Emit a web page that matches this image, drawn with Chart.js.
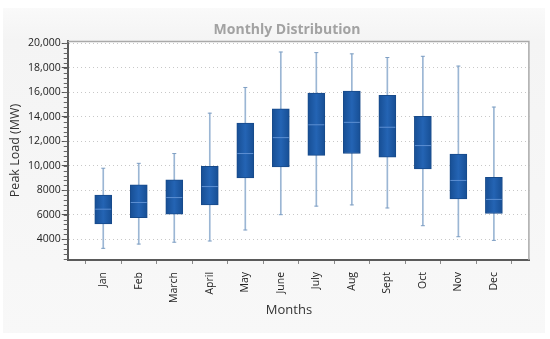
<!DOCTYPE html>
<html>
<head>
<meta charset="utf-8">
<script src="https://cdn.jsdelivr.net/npm/chart.js@4.4.1/dist/chart.umd.min.js"></script>
<style>
  html, body { margin: 0; padding: 0; background: #fff; }
  #wrap { width: 550px; height: 339px; position: relative; }
</style>
</head>
<body>
<div id="wrap"><canvas id="chart"></canvas></div>
<script>
// monthly peak load values (MW)
var months = ["Jan", "Feb", "March", "April", "May", "June", "July", "Aug", "Sept", "Oct", "Nov", "Dec"];
var lowWhisker = [3250, 3600, 3750, 3850, 4750, 6000, 6700, 6800, 6550, 5100, 4200, 3900];
var q1 = [5250, 5750, 6050, 6800, 9000, 9900, 10850, 11000, 10700, 9750, 7300, 6100];
var median = [6450, 7000, 7400, 8300, 11000, 12300, 13350, 13550, 13150, 11650, 8800, 7250];
var q3 = [7600, 8450, 8850, 9950, 13500, 14650, 15950, 16100, 15750, 14050, 10950, 9050];
var highWhisker = [9800, 10200, 11000, 14300, 16400, 19300, 19250, 19150, 18850, 18950, 18150, 14800];
var yTicks = [4000, 6000, 8000, 10000, 12000, 14000, 16000, 18000, 20000];

var titleText = "Monthly Distribution";
var yTitle = "Peak Load (MW)";
var xTitle = "Months";

// one empty slot each side so the months sit inside the frame like the original
var labels = [""].concat(months).concat([" "]);

function pairs(a, b) {
    return months.map(function (m, i) { return { x: m, y: [a[i], b[i]] }; });
}
function points(a) {
    return months.map(function (m, i) { return { x: m, y: a[i] }; });
}

// gradient for each box, lighter in the middle
function boxFill(ctx) {
    var chart = ctx.chart;
    if (ctx.type !== 'data' || !chart.chartArea || !chart.scales.x) return '#1d5aa6';
    var cx = chart.scales.x.getPixelForValue(ctx.parsed.x);
    var g = chart.ctx.createLinearGradient(cx - 9, 0, cx + 9, 0);
    g.addColorStop(0, '#164d92');
    g.addColorStop(0.5, '#2464b4');
    g.addColorStop(1, '#164d92');
    return g;
}

var backdrop = {
    id: 'backdrop',
    beforeDraw: function (chart) {
        var c = chart.ctx, a = chart.chartArea;
        c.save();
        c.fillStyle = '#ffffff';
        c.fillRect(0, 0, chart.width, chart.height);
        var g = c.createLinearGradient(0, 0, 0, chart.height);
        g.addColorStop(0, '#fbfbfb');
        g.addColorStop(0.12, '#f4f4f4');
        g.addColorStop(1, '#f8f8f8');
        c.fillStyle = g;
        c.fillRect(3, 8, 542, 325);
        c.fillStyle = '#ffffff';
        c.fillRect(a.left, a.top, a.right - a.left, a.bottom - a.top);
        c.restore();
    },
    afterDraw: function (chart) {
        var c = chart.ctx, a = chart.chartArea, y = chart.scales.y;
        c.save();
        // top and right frame
        c.strokeStyle = '#a9a9a9';
        c.lineWidth = 1.5;
        c.beginPath();
        c.moveTo(a.left, a.top + 0.5);
        c.lineTo(a.right - 0.5, a.top + 0.5);
        c.lineTo(a.right - 0.5, a.bottom);
        c.stroke();
        // minor ticks on the value axis
        c.strokeStyle = '#666';
        c.lineWidth = 1;
        c.beginPath();
        for (var v = 2400; v <= 20200; v += 400) {
            var py = Math.round(y.getPixelForValue(v)) + 0.5;
            c.moveTo(a.left - 4, py);
            c.lineTo(a.left, py);
        }
        c.stroke();
        // titles
        c.fillStyle = '#a2a2a2';
        c.font = 'bold 14px "Open Sans"';
        c.textAlign = 'center';
        c.textBaseline = 'middle';
        c.fillText(titleText, 287, 30);
        c.fillStyle = '#333';
        c.font = '13px "Open Sans"';
        c.fillText(xTitle, 289, 310);
        c.restore();
    }
};

new Chart(document.getElementById('chart'), {
    type: 'bar',
    data: {
        labels: labels,
        datasets: [
            {
                label: 'median',
                type: 'line',
                data: points(median),
                showLine: false,
                pointStyle: 'line',
                pointRadius: 8,
                pointBorderWidth: 1,
                pointBorderColor: '#5d8fd2',
                order: 0
            },
            {
                label: 'caps',
                type: 'line',
                data: points(highWhisker).concat(points(lowWhisker)),
                showLine: false,
                pointStyle: 'line',
                pointRadius: 2,
                pointBorderWidth: 1,
                pointBorderColor: '#7f9fc3',
                order: 1
            },
            {
                label: 'box',
                data: pairs(q1, q3),
                backgroundColor: boxFill,
                borderColor: '#174a8a',
                borderWidth: 1,
                borderSkipped: false,
                barThickness: 17,
                grouped: false,
                order: 2
            },
            {
                label: 'whisker',
                data: pairs(lowWhisker, highWhisker),
                backgroundColor: '#9bb6d4',
                borderWidth: 0,
                barThickness: 1,
                grouped: false,
                order: 3
            }
        ]
    },
    options: {
        responsive: true,
        maintainAspectRatio: false,
        animation: false,
        layout: { padding: { top: 41, right: 9, bottom: 28, left: 8 } },
        plugins: {
            legend: { display: false },
            tooltip: { enabled: false },
            title: { display: false }
        },
        scales: {
            x: {
                type: 'category',
                offset: false,
                grid: {
                    drawOnChartArea: false,
                    drawTicks: true,
                    tickLength: 4,
                    tickColor: '#888'
                },
                border: { color: '#5a5a5a', width: 2 },
                ticks: {
                    autoSkip: false,
                    minRotation: 90,
                    maxRotation: 90,
                    padding: 8,
                    color: '#222',
                    font: { family: 'Open Sans', size: 10.5 }
                }
            },
            y: {
                min: 2300,
                max: 20200,
                afterBuildTicks: function (scale) {
                    scale.ticks = yTicks.map(function (v) { return { value: v }; });
                },
                grid: {
                    color: '#c8c8c8',
                    tickLength: 6,
                    tickColor: '#555',
                    tickBorderDash: []
                },
                border: { color: '#5a5a5a', width: 2, dash: [1, 3] },
                title: {
                    display: true,
                    text: yTitle,
                    color: '#333',
                    padding: { top: 0, bottom: 4 },
                    font: { family: 'Open Sans', size: 12.5 }
                },
                ticks: {
                    padding: 1,
                    color: '#222',
                    font: { family: 'Open Sans', size: 10.5 },
                    callback: function (v) {
                        return v >= 10000 ? v.toLocaleString('en-US') : String(v);
                    }
                }
            }
        }
    },
    plugins: [backdrop]
});
</script>
</body>
</html>
